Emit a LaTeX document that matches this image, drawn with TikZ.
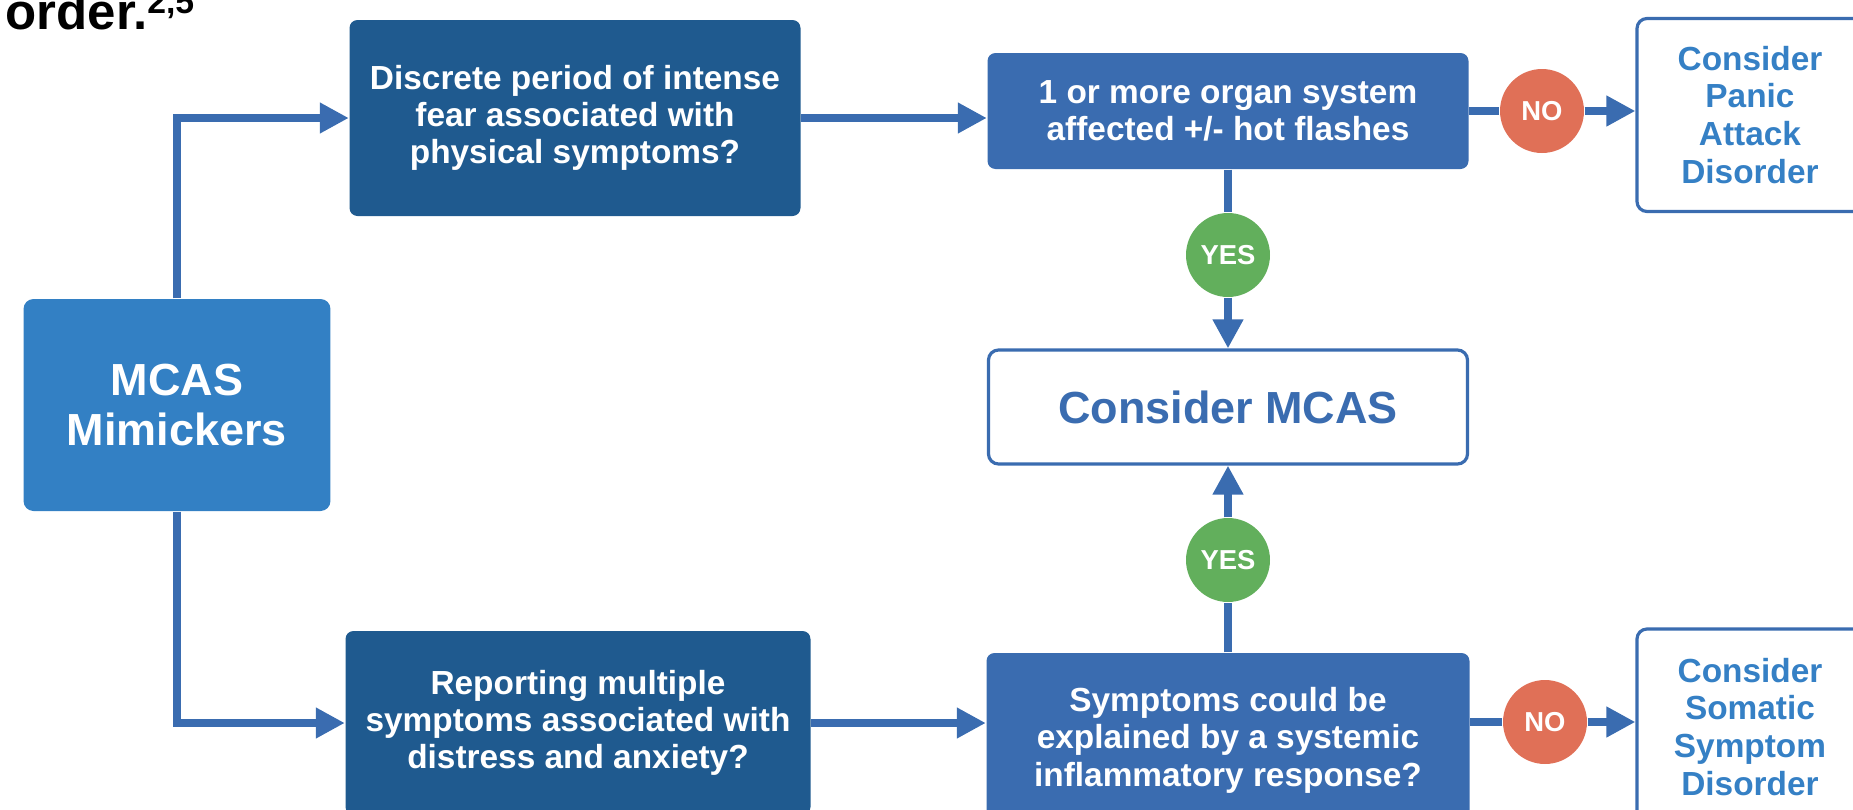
\documentclass[tikz,border=0pt]{standalone}
\usepackage{fontspec}
\setmainfont{Liberation Sans}
\usepackage{xcolor}
\usepackage{tikz}
\usetikzlibrary{arrows.meta, positioning, calc}
\definecolor{mimicblue}{HTML}{3380C4}
\definecolor{questionblue}{HTML}{1F5A8F}
\definecolor{checkblue}{HTML}{3A6CB0}
\definecolor{resultblue}{HTML}{3580C5}
\definecolor{yesgreen}{HTML}{62AF5C}
\definecolor{nored}{HTML}{E07057}

\begin{document}
\begin{tikzpicture}[
    x=0.1mm, y=-0.1mm,
    mimic/.style={rectangle, rounded corners=1mm, fill=mimicblue, text=white, minimum width=30.7mm, minimum height=21.2mm, align=center, font=\fontsize{12.8}{14}\selectfont\bfseries},
    question/.style={rectangle, rounded corners=0.8mm, fill=questionblue, text=white, align=center, font=\fontsize{9.5}{10.5}\selectfont\bfseries},
    check/.style={rectangle, rounded corners=0.8mm, fill=checkblue, text=white, align=center, font=\fontsize{9.5}{10.7}\selectfont\bfseries},
    result/.style={rectangle, rounded corners=1mm, draw=checkblue, line width=0.9pt, fill=white, text=resultblue, align=center, font=\fontsize{9.5}{10.8}\selectfont\bfseries},
    answer/.style={circle, minimum size=8.4mm, inner sep=0pt, text=white, font=\fontsize{7.8}{8}\selectfont\bfseries},
    link/.style={draw=checkblue, line width=2.3pt},
    flowarrow/.style={link, -{Triangle[length=2.9mm, width=2.9mm]}}
]
\useasboundingbox (0,0) rectangle (1853,810);

% Title fragment
\node[anchor=base west, inner sep=0pt, font=\fontsize{14.5}{15}\selectfont\bfseries] (title) at (5,29) {order.\raisebox{1.6mm}{\fontsize{9.6}{10}\selectfont 2,5}};

% Start
\node[mimic] (mimic) at (177,405) {MCAS\\Mimickers};

% Questions
\node[question, minimum width=45.1mm, minimum height=19.6mm] (fear) at (575,118) {Discrete period of intense\\fear associated with\\physical symptoms?};
\node[question, minimum width=46.5mm, minimum height=18.4mm] (distress) at (578,723) {Reporting multiple\\symptoms associated with\\distress and anxiety?};

% Checks
\node[check, minimum width=48.1mm, minimum height=11.6mm] (organ) at (1228,111) {1 or more organ system\\affected +/- hot flashes};
\node[check, minimum width=48.3mm, minimum height=17.4mm] (systemic) at (1228,740) {Symptoms could be\\explained by a systemic\\inflammatory response?};

% Outcomes
\node[result, minimum width=47.9mm, minimum height=11.4mm, text=checkblue, font=\fontsize{12.8}{14}\selectfont\bfseries] (mcas) at (1228,407) {Consider MCAS};
\node[result, minimum width=22.6mm, minimum height=19.3mm] (panic) at (1750,115) {Consider\\Panic\\Attack\\Disorder};
\node[result, minimum width=22.6mm, minimum height=19.6mm] (somatic) at (1750,727) {Consider\\Somatic\\Symptom\\Disorder};

% Answers
\node[answer, fill=yesgreen] (yes1) at (1228,255) {YES};
\node[answer, fill=yesgreen] (yes2) at (1228,560) {YES};
\node[answer, fill=nored] (no1) at (1542,111) {NO};
\node[answer, fill=nored] (no2) at (1545,722) {NO};

% Connectors
\draw[flowarrow] (mimic.north) |- (fear.west);
\draw[flowarrow] (mimic.south) |- (distress.west);
\draw[flowarrow] (fear.east) -- (fear.east -| organ.west);
\draw[flowarrow] (distress.east) -- (distress.east -| systemic.west);
\draw[link] (organ) -- (yes1);
\draw[flowarrow] (yes1) -- (mcas);
\draw[link] (systemic) -- (yes2);
\draw[flowarrow] (yes2) -- (mcas);
\draw[link] (organ) -- (no1);
\draw[flowarrow] (no1) -- (no1 -| panic.west);
\draw[link] (no2 -| systemic.east) -- (no2);
\draw[flowarrow] (no2) -- (no2 -| somatic.west);

\end{tikzpicture}
\end{document}
